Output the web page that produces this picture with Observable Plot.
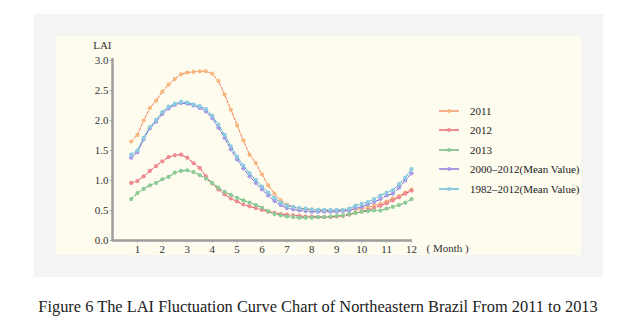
<!DOCTYPE html>
<html>
<head>
<meta charset="utf-8">
<script src="https://cdn.jsdelivr.net/npm/d3@7"></script>
<script src="https://cdn.jsdelivr.net/npm/@observablehq/plot@0.6"></script>
<style>
  html, body { margin: 0; padding: 0; background: #ffffff; }
  body { width: 638px; height: 326px; position: relative; overflow: hidden; font-family: "Liberation Serif", "DejaVu Serif", serif; }
  #panel { position: absolute; left: 34px; top: 14px; width: 569px; height: 263px; background: #f4f4f4; }
  #plotarea { position: absolute; left: 22px; top: 22px; width: 525px; height: 219px; background: #fdfcee; }
  #chart { position: absolute; left: 0; top: 0; }
  #legend { position: absolute; left: 383px; top: 65px; }
  .row { height: 19.5px; display: flex; align-items: center; font-family: "Liberation Serif", serif; font-size: 11px; color: #222; white-space: nowrap; }
  .row svg { margin-right: 11px; }
  #caption { position: absolute; left: 38px; top: 297px; font-family: "Liberation Serif", serif; font-size: 15px; color: #222; white-space: nowrap; }
</style>
</head>
<body>
<div id="panel"><div id="plotarea"><div id="chart"></div><div id="legend"></div></div></div>
<div id="caption"></div>
<script>
// Month positions of the 46 eight-day composites
const months = [0.75,1,1.25,1.5,1.75,2,2.25,2.5,2.75,3,3.25,3.5,3.75,4,4.25,4.5,4.75,5,5.25,5.5,5.75,6,6.25,6.5,6.75,7,7.25,7.5,7.75,8,8.25,8.5,8.75,9,9.25,9.5,9.75,10,10.25,10.5,10.75,11,11.25,11.5,11.75,12];

const seriesNames = ["2011", "2012", "2013", "2000\u20132012(Mean Value)", "1982\u20132012(Mean Value)"];
const lineColors = ["#f27a52", "#de4456", "#4fa565", "#6f5fd0", "#3fa9cf"];
const dotColors  = ["#f8b77c", "#ef8a92", "#8ccb96", "#a69be6", "#8dcbe2"];

const lai2011 = [1.65,1.76,2.00,2.21,2.33,2.48,2.60,2.69,2.77,2.80,2.81,2.82,2.82,2.78,2.66,2.43,2.18,1.92,1.67,1.43,1.29,1.10,0.92,0.78,0.67,0.60,0.56,0.53,0.52,0.51,0.51,0.50,0.50,0.50,0.50,0.51,0.52,0.53,0.55,0.58,0.61,0.65,0.70,0.74,0.80,0.85];
const lai2012 = [0.96,0.99,1.07,1.16,1.24,1.32,1.39,1.42,1.43,1.38,1.29,1.21,1.07,0.95,0.85,0.77,0.70,0.65,0.60,0.57,0.54,0.51,0.48,0.46,0.44,0.43,0.42,0.41,0.40,0.40,0.39,0.39,0.39,0.40,0.41,0.43,0.46,0.48,0.51,0.54,0.58,0.62,0.67,0.72,0.78,0.83];
const lai2013 = [0.69,0.79,0.86,0.92,0.96,1.02,1.06,1.13,1.16,1.17,1.14,1.09,1.03,0.96,0.88,0.81,0.76,0.71,0.67,0.63,0.59,0.55,0.49,0.44,0.42,0.40,0.39,0.38,0.38,0.38,0.39,0.39,0.40,0.41,0.42,0.44,0.46,0.48,0.49,0.50,0.50,0.53,0.56,0.59,0.63,0.69];
const laiMean2000 = [1.38,1.47,1.69,1.87,1.98,2.11,2.20,2.26,2.29,2.28,2.25,2.21,2.15,2.04,1.88,1.71,1.52,1.35,1.20,1.07,0.96,0.85,0.75,0.66,0.59,0.54,0.52,0.50,0.49,0.48,0.48,0.48,0.48,0.48,0.49,0.50,0.54,0.56,0.60,0.64,0.69,0.75,0.78,0.88,1.00,1.12];
const laiMean1982 = [1.43,1.50,1.71,1.89,2.01,2.14,2.23,2.28,2.31,2.30,2.27,2.24,2.19,2.08,1.93,1.76,1.57,1.40,1.25,1.12,1.01,0.90,0.80,0.71,0.63,0.58,0.56,0.54,0.53,0.52,0.51,0.51,0.51,0.51,0.51,0.53,0.58,0.61,0.64,0.69,0.75,0.80,0.84,0.94,1.05,1.19];

const monthTicks = [1,2,3,4,5,6,7,8,9,10,11,12];
const yTicks = [0,0.5,1,1.5,2,2.5,3];
const yLabel = "LAI";
const xLabel = "( Month )";
const captionText = "Figure 6 The LAI Fluctuation Curve Chart of Northeastern Brazil From 2011 to 2013";

const allValues = [lai2011, lai2012, lai2013, laiMean2000, laiMean1982];
const data = [];
allValues.forEach((vals, s) => vals.forEach((v, i) => data.push({series: seriesNames[s], month: months[i], value: v})));

const serif = '"Liberation Serif", "DejaVu Serif", serif';
const axisColor = "#9d9d9d";
const marks = [];
seriesNames.forEach((name, s) => {
  const d = data.filter(r => r.series === name);
  marks.push(Plot.line(d, {x: "month", y: "value", stroke: lineColors[s], strokeWidth: 1, strokeDasharray: "3,1.6"}));
  marks.push(Plot.dot(d, {x: "month", y: "value", fill: dotColors[s], r: 2.1, stroke: "none"}));
});

const chart = Plot.plot({
  width: 525,
  height: 219,
  marginLeft: 56,
  marginRight: 169,
  marginTop: 22,
  marginBottom: 15,
  x: {domain: [0, 12.04]},
  y: {domain: [0, 3.033]},
  style: {fontFamily: serif, fontSize: "11px", background: "transparent", color: "#333", overflow: "visible"},
  marks: [
    Plot.axisX({ticks: monthTicks, tickSize: 3, tickPadding: 2, stroke: "#c8c8c8", tickFormat: d => String(d), label: null, fill: "#333", fontFamily: serif}),
    Plot.axisY({ticks: yTicks, tickSize: 2, tickPadding: 2, stroke: axisColor, tickFormat: d => d.toFixed(1), label: null, fill: "#333", fontFamily: serif}),
    Plot.ruleY([0], {x1: 0, x2: 12.04, stroke: axisColor, strokeWidth: 2.5}),
    Plot.ruleX([0], {y1: 0, y2: 3.033, stroke: axisColor, strokeWidth: 2.5}),
    ...marks,
    Plot.text([yLabel], {x: 0, y: 3.033, dx: -1, dy: -13, text: d => d, textAnchor: "end", fill: "#333", fontFamily: serif}),
    Plot.text([xLabel], {x: 12.04, y: 0, dx: 14, dy: 8, text: d => d, textAnchor: "start", fill: "#333", fontFamily: serif})
  ]
});
document.getElementById("chart").appendChild(chart);

// legend
const legend = d3.select("#legend");
seriesNames.forEach((name, s) => {
  const row = legend.append("div").attr("class", "row");
  const svg = row.append("svg").attr("width", 20).attr("height", 6);
  svg.append("line").attr("x1", 0).attr("x2", 20).attr("y1", 3).attr("y2", 3).attr("stroke", lineColors[s]).attr("stroke-width", 1.2);
  svg.append("circle").attr("cx", 10).attr("cy", 3).attr("r", 2).attr("fill", dotColors[s]);
  row.append("span").text(name);
});

// caption: fit to the reference span (x 38..598)
const cap = document.getElementById("caption");
cap.textContent = captionText;
let fs = 15;
cap.style.fontSize = fs + "px";
const w = cap.getBoundingClientRect().width;
if (w > 0) {
  fs = Math.max(10, Math.min(20, fs * 560 / w));
  cap.style.fontSize = fs + "px";
  const w2 = cap.getBoundingClientRect().width;
  const h2 = cap.getBoundingClientRect().height;
  cap.style.left = (318 - w2 / 2) + "px";
  cap.style.top = (307 - h2 / 2) + "px";
}
</script>
</body>
</html>
